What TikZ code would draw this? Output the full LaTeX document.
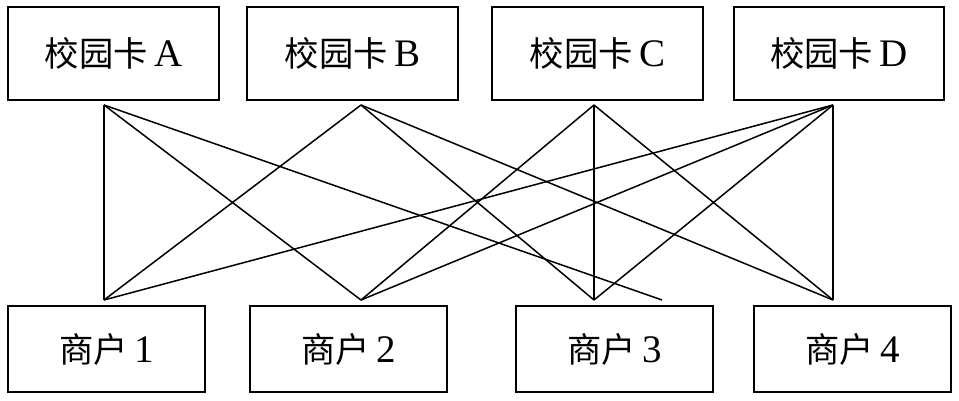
\documentclass[tikz,border=0pt]{standalone}
\usepackage{fontspec}
\setmainfont{Liberation Serif}
\newfontfamily\cjk{Noto Sans CJK SC}[Scale=0.88]
\begin{document}
\begin{tikzpicture}[x=1pt,y=-1pt,line width=1.5pt,font=\fontsize{39}{48}\selectfont]
\useasboundingbox (0,0) rectangle (959,401);
\node[draw,minimum width=211pt,minimum height=93pt] (kA) at (113.5,53.5) {{\cjk 校园卡}\,A};
\node[draw,minimum width=211pt,minimum height=93pt] (kB) at (352.5,53.5) {{\cjk 校园卡}\,B};
\node[draw,minimum width=211pt,minimum height=93pt] (kC) at (597.5,53.5) {{\cjk 校园卡}\,C};
\node[draw,minimum width=210pt,minimum height=93pt] (kD) at (839,53.5) {{\cjk 校园卡}\,D};
\node[draw,minimum width=197pt,minimum height=86pt] (s1) at (106.5,349) {{\cjk 商户}\,1};
\node[draw,minimum width=197pt,minimum height=86pt] (s2) at (348.5,349) {{\cjk 商户}\,2};
\node[draw,minimum width=197pt,minimum height=86pt] (s3) at (614.5,349) {{\cjk 商户}\,3};
\node[draw,minimum width=197pt,minimum height=86pt] (s4) at (852.5,349) {{\cjk 商户}\,4};
\coordinate (tA) at (104,105);
\coordinate (tB) at (361,105);
\coordinate (tC) at (594,105);
\coordinate (tD) at (833,105);
\coordinate (b1) at (104,300);
\coordinate (b2) at (361,300);
\coordinate (b3) at (594,300);
\coordinate (b4) at (833,300);
\coordinate (bx) at (662,300);
\draw (tA)--(b1);
\draw (tA)--(b2);
\draw (tA)--(bx);
\draw (tB)--(b1);
\draw (tB)--(b3);
\draw (tB)--(b4);
\draw (tC)--(b2);
\draw (tC)--(b3);
\draw (tC)--(b4);
\draw (tD)--(b1);
\draw (tD)--(b2);
\draw (tD)--(b3);
\draw (tD)--(b4);
\end{tikzpicture}
\end{document}
